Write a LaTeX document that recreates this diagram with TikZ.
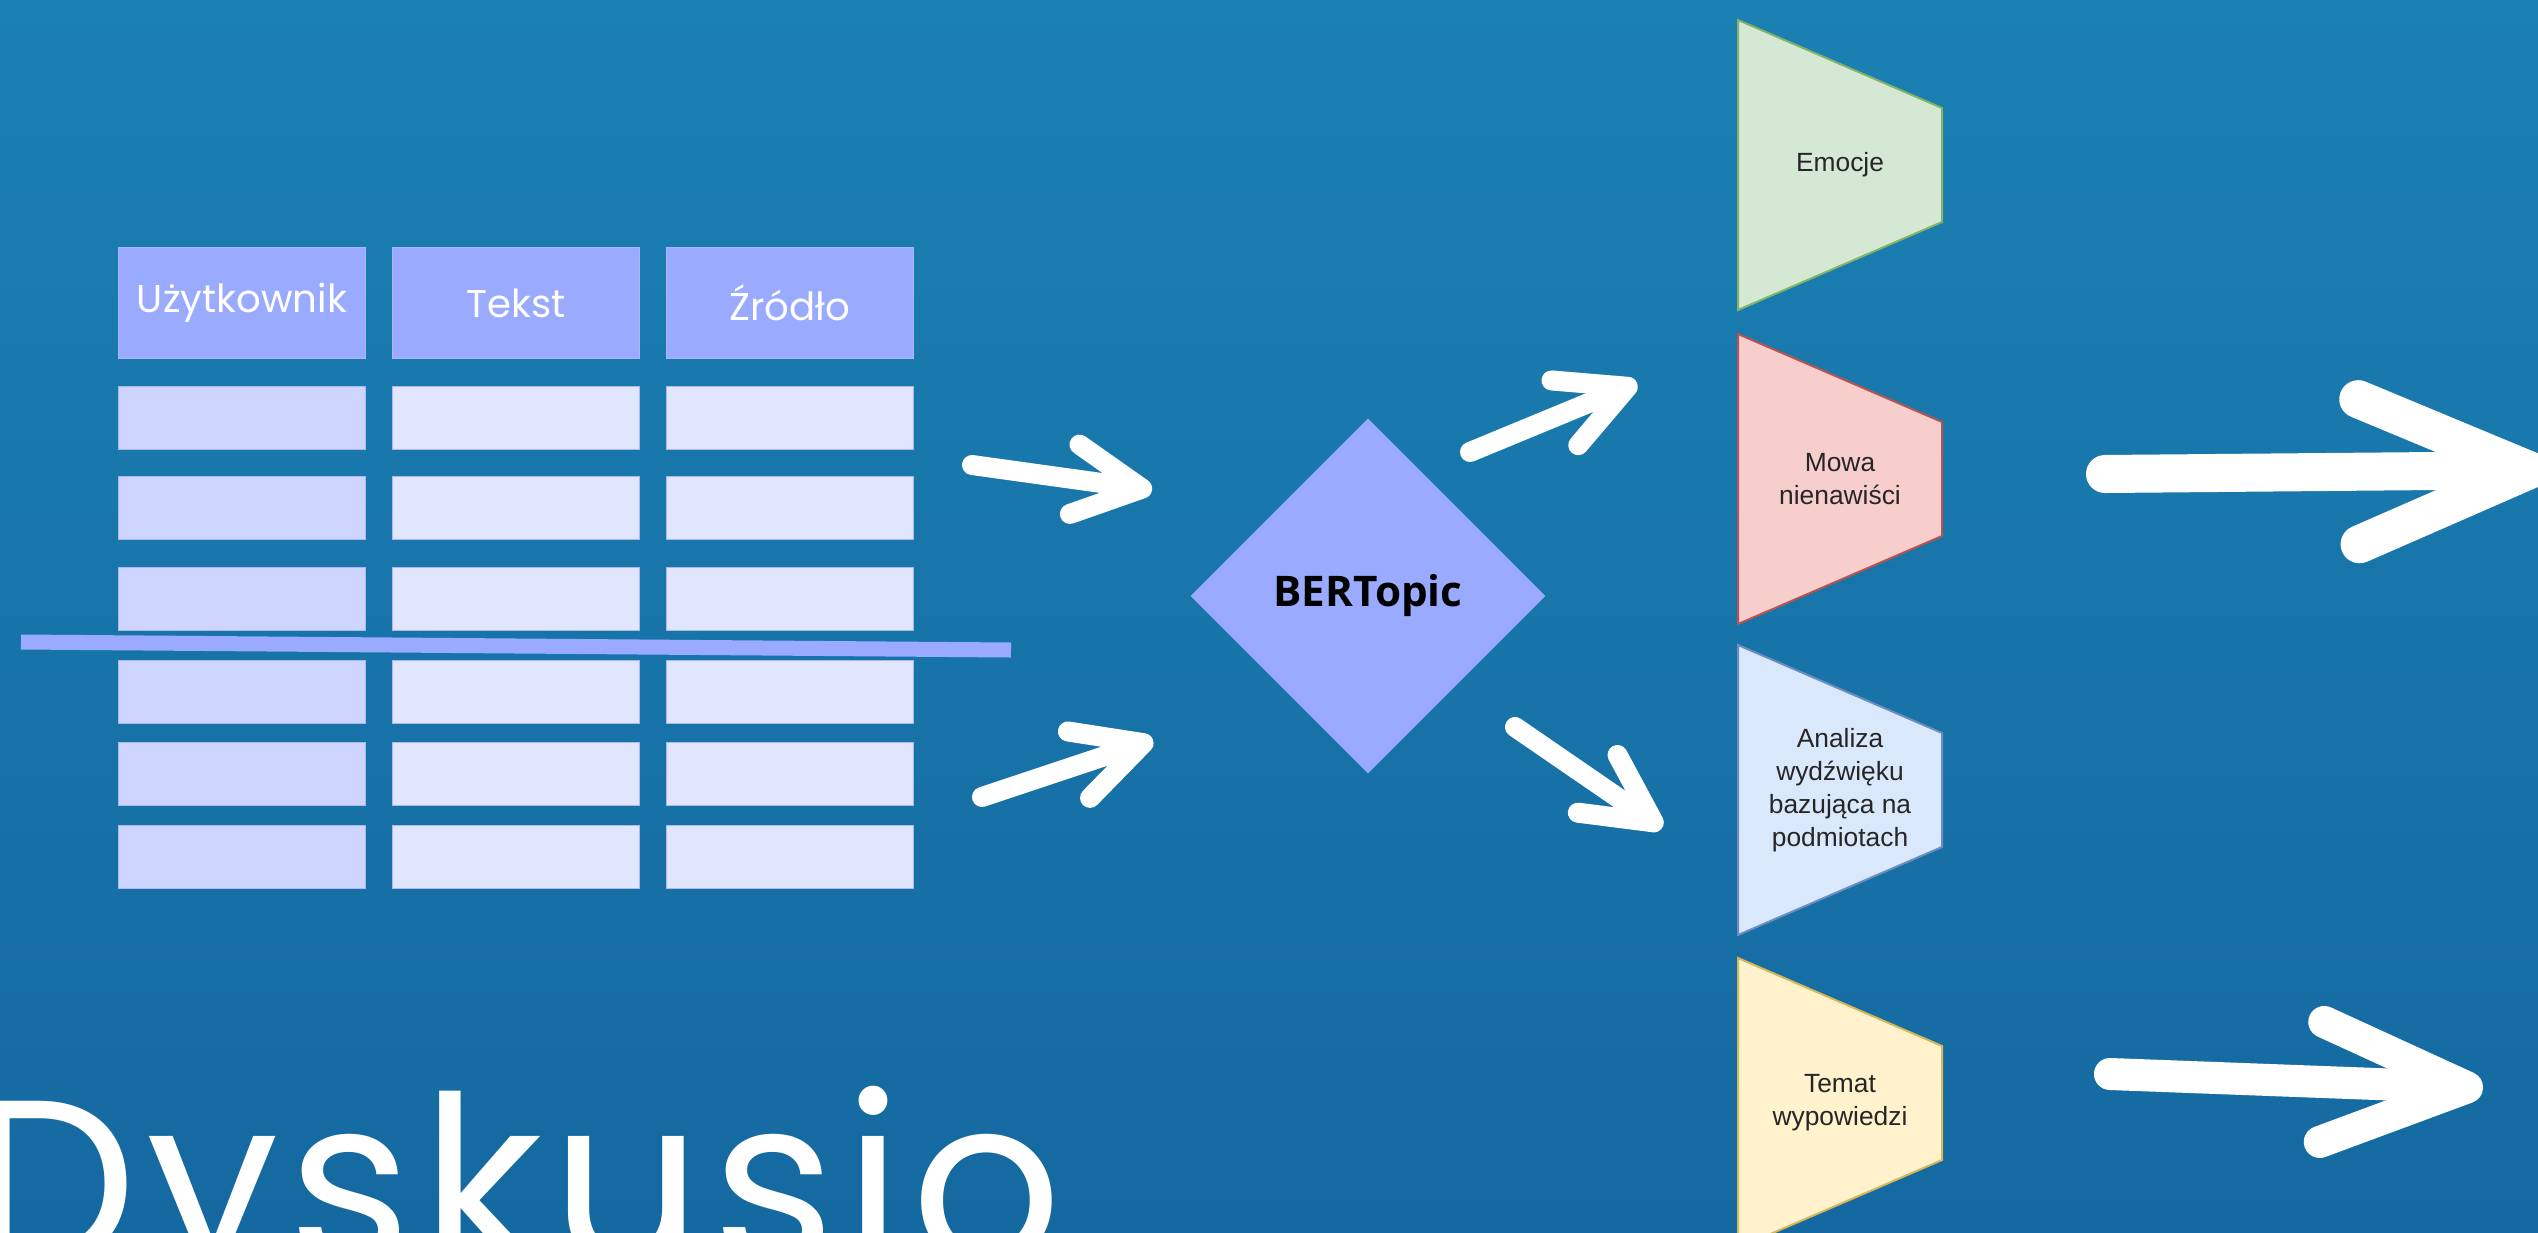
\documentclass[tikz,border=0pt]{standalone}
\usepackage{fontspec}
\usetikzlibrary{shapes.geometric,arrows.meta}
\newfontfamily\roundfont{Poppins}
\newfontfamily\logofont[LetterSpace=4]{Poppins}
\newfontfamily\labelfont{Open Sans}
\newfontfamily\panelfont{Liberation Sans}
\definecolor{bgtop}{HTML}{1B80B2}
\definecolor{bgbot}{HTML}{1469A0}
\definecolor{hdrfill}{HTML}{99AAFF}
\definecolor{cellA}{HTML}{CDD5FF}
\definecolor{cellB}{HTML}{E1E6FC}
\definecolor{cellline}{HTML}{A9B7F2}
\definecolor{emofill}{HTML}{D5E8D4}
\definecolor{emoline}{HTML}{82B366}
\definecolor{hatefill}{HTML}{F8CECC}
\definecolor{hateline}{HTML}{B85450}
\definecolor{absafill}{HTML}{DAE8FC}
\definecolor{absaline}{HTML}{6C8EBF}
\definecolor{topicfill}{HTML}{FFF2CC}
\definecolor{topicline}{HTML}{D6B656}
\begin{document}
\begin{tikzpicture}[x=0.01cm, y=-0.01cm,
  cell/.style={draw=cellline, line width=0.3pt, fill=cellB, minimum width=2.47cm, minimum height=0.63cm, inner sep=0},
  hdr/.style={cell, fill=hdrfill, minimum height=1.11cm, text=white, font=\roundfont\fontsize{11}{13}\selectfont},
  panel/.style={font=\panelfont\fontsize{7.5}{9.4}\selectfont, text=black!85, align=center, inner sep=0},
  brush/.style={draw=white, line width=0.2cm, line cap=round, -{Straight Barb[round, length=0.68cm, width=0.7cm]}},
  bigbrush/.style={brush, line width=#1}]
\clip (0,0) rectangle (2538,1233);
\shade[top color=bgtop, bottom color=bgbot] (0,0) rectangle (2538,1233);

% table
\node[hdr] (H1) at (242,303) {Użytkownik};
\node[hdr] (H2) at (516,303) {Tekst};
\node[hdr] (H3) at (790,303) {Źródło};
\foreach \r/\y in {1/418,2/508,3/599,4/692,5/774,6/857} {
  \node[cell, fill=cellA] (c1\r) at (242,\y) {};
  \node[cell] (c2\r) at (516,\y) {};
  \node[cell] (c3\r) at (790,\y) {};
}
\draw[hdrfill, line width=0.15cm] (21,642) -- (1011,650);

% model
\node[diamond, fill=hdrfill, minimum width=3.55cm, minimum height=3.55cm, inner sep=0,
      font=\labelfont\bfseries\fontsize{12}{14}\selectfont] (bert) at (1368,596) {BERTopic};

% outputs
\foreach \n/\y/\f/\d/\t in {emo/165/emofill/emoline/Emocje,
    hate/479/hatefill/hateline/{Mowa\\nienawiści},
    absa/790/absafill/absaline/{Analiza\\wydźwięku\\bazująca na\\podmiotach},
    topic/1103/topicfill/topicline/{Temat\\wypowiedzi}} {
  \filldraw[fill=\f, draw=\d, line width=0.02cm] (1738,\y-145) -- (1942,\y-57) -- (1942,\y+57) -- (1738,\y+145) -- cycle;
  \node[panel] (\n) at (1840,\y) {\t};
}

\node[anchor=base west, inner sep=0, text=white, font=\logofont\fontsize{67}{75}\selectfont] (logo) at (-30,1265) {Dyskusio};

% arrows
\coordinate (in1s) at (972,465);   \coordinate (in1e) at (1152,490);
\coordinate (in2s) at (982,797);   \coordinate (in2e) at (1153,740);
\coordinate (out1s) at (1470,452); \coordinate (out1e) at (1637,383);
\coordinate (out2s) at (1515,727); \coordinate (out2e) at (1662,828);
\coordinate (res1s) at (2105,474); \coordinate (res1e) at (2548,470);
\coordinate (res2s) at (2110,1074);\coordinate (res2e) at (2483,1088);

\draw[brush] (in1s) -- (in1e);
\draw[brush] (in2s) -- (in2e);
\draw[brush] (out1s) -- (out1e);
\draw[brush] (out2s) -- (out2e);
\draw[bigbrush=0.38cm, -{Straight Barb[round, length=1.7cm, width=1.45cm]}] (res1s) -- (res1e);
\draw[bigbrush=0.32cm, -{Straight Barb[round, length=1.45cm, width=1.2cm]}] (res2s) -- (res2e);
\end{tikzpicture}
\end{document}
